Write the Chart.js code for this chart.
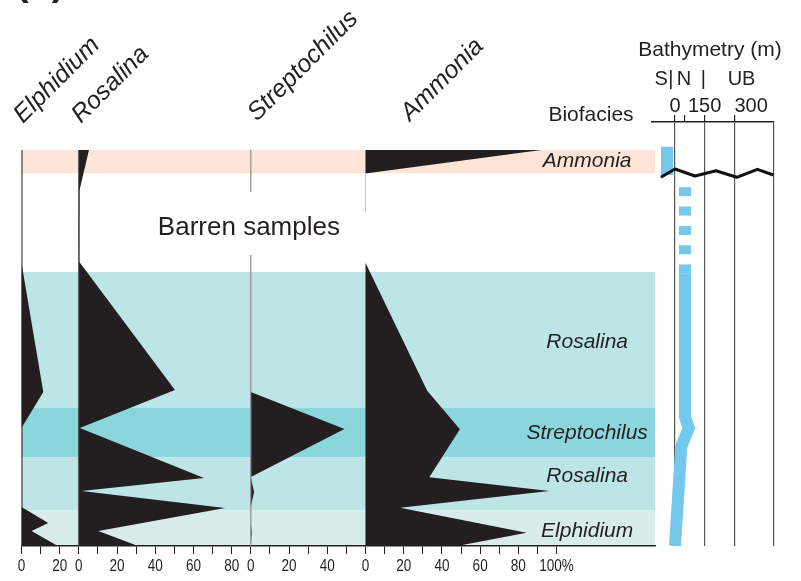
<!DOCTYPE html>
<html>
<head>
<meta charset="utf-8">
<title>Biofacies and bathymetry</title>
<script src="https://cdn.jsdelivr.net/npm/chart.js@4.4.1/dist/chart.umd.min.js"></script>
<style>
  html, body { margin: 0; padding: 0; background: #fff; }
  #wrap { position: relative; width: 801px; height: 581px; overflow: hidden; }
  #wrap canvas { position: absolute; left: 0; top: 0; }
</style>
</head>
<body>
<div id="wrap">
  <canvas id="main" width="801" height="581"></canvas>
  <canvas id="bathy" width="801" height="581"></canvas>
</div>
<script>
// columns, in drawing order, and the % range given to each one
const taxa = ['Elphidium', 'Rosalina', 'Streptochilus', 'Ammonia'];
const taxonMax = [30, 90, 60, 100];

// depth of each sample (top of section = 0) and relative abundance in %
const elphDepth = [0, 113, 242, 278, 357, 373, 381, 396];
const elphPct   = [0, 0, 11.4, 0, 0, 14, 5.3, 19];
const rosaDepth = [0, 40, 112, 240, 278, 328, 341, 358, 381, 396];
const rosaPct   = [5.3, 0.4, 0.3, 50.3, 0.5, 65.5, 1.5, 76.5, 10.2, 31];
const strepDepth = [0, 242, 279, 327, 342, 357, 373, 383, 393, 396];
const strepPct   = [0, 0, 49, 0, 1.7, 0, 0, 0.5, 0, 0];
const ammoDepth = [0, 23.5, 112.7, 240.7, 279.3, 327.3, 341, 357.7, 382.7, 396];
const ammoPct   = [92, 0, 0, 32.3, 49.4, 33.4, 96.2, 18.1, 84.3, 48];

// biofacies intervals
const bandTop    = [0, 23.5, 122, 257.5, 307.5, 360.5];
const bandBottom = [23.5, 122, 257.5, 307.5, 360.5, 396];
const bandFacies = ['Ammonia', 'Barren', 'Rosalina', 'Streptochilus', 'Rosalina', 'Elphidium'];
const faciesLabels = ['Ammonia', 'Rosalina', 'Streptochilus', 'Rosalina', 'Elphidium'];
const faciesLabelDepth = [17, 198, 289, 332, 387];

// stretches where a column's zero line is drawn: [column, from, to]
const zeroLines = [[0, 0, 396], [1, 0, 396], [2, 0, 42], [2, 105, 396], [3, 23.5, 62]];

// bathymetry (m) against the same depth
const bathyTicks = [0, 50, 150, 300, 500];
const bathyTickLabels = ['0', '', '150', '300', ''];
const zoneNames = ['S', '|', 'N', '|', 'UB'];
const zoneAt = [-70, -21, 45, 143, 336];
const shallowM = [-40, -40];
const shallowDepth = [-3.3, 25];
const gapM = [50.5, 50.5];
const gapDepth = [37.3, 123.3];
const pathM = [50.5, 50.5, 69.7, 31.8, 0];
const pathDepth = [123.3, 266.7, 278.3, 296.7, 396];
const waveM = [-71, 0, 101, 207, 312, 416, 497];
const waveDepth = [27.3, 19, 26, 20.7, 27.3, 19.3, 25];

const INK = '#231f20';
const BLUE = '#74c8ec';
const faciesColor = {
    Ammonia: '#fce5d6',
    Barren: '#ffffff',
    Rosalina: '#bde5e7',
    Streptochilus: '#8bd5dd',
    Elphidium: '#d8ecea'
};
const zeroColor = [INK, '#3a3a3a', '#8a8a8a', '#d0d0d0'];
const FONT = '"Liberation Sans", Arial, Helvetica, sans-serif';

Chart.defaults.font.family = FONT;
Chart.defaults.animation = false;

// offset of each column on the shared x scale
const offsets = [];
let total = 0;
taxonMax.forEach(m => { offsets.push(total); total += m; });

// tick values and their labels (every 10 %, labelled every 20 %)
const tickValues = [];
const tickText = {};
taxonMax.forEach((m, i) => {
    const last = i === taxonMax.length - 1;
    for (let v = 0; v < m || (last && v === m); v += 10) {
        const value = offsets[i] + v;
        tickValues.push(value);
        tickText[value] = v % 20 === 0 ? (last && v === m ? v + '%' : String(v)) : '';
    }
});

function xy(xs, ys) {
    return xs.map((x, k) => ({x: x, y: ys[k]}));
}

function profile(i, depth, pct) {
    const pts = [{x: offsets[i], y: depth[0]}];
    depth.forEach((d, k) => pts.push({x: offsets[i] + pct[k], y: d}));
    pts.push({x: offsets[i], y: depth[depth.length - 1]});
    return pts;
}

const profiles = [
    profile(0, elphDepth, elphPct),
    profile(1, rosaDepth, rosaPct),
    profile(2, strepDepth, strepPct),
    profile(3, ammoDepth, ammoPct)
];

const mainDatasets = [];
zeroLines.forEach(seg => {
    mainDatasets.push({
        data: [{x: offsets[seg[0]], y: seg[1]}, {x: offsets[seg[0]], y: seg[2]}],
        showLine: true,
        borderColor: zeroColor[seg[0]],
        borderWidth: seg[0] === 0 ? 2 : 1.2,
        pointRadius: 0
    });
});
profiles.forEach(pts => {
    mainDatasets.push({
        data: pts,
        showLine: true,
        fill: 'shape',
        backgroundColor: INK,
        borderColor: 'rgba(0,0,0,0)',
        borderWidth: 0,
        pointRadius: 0
    });
});

const bandsPlugin = {
    id: 'bands',
    beforeDraw(chart) {
        const ctx = chart.ctx;
        const area = chart.chartArea;
        const y = chart.scales.y;
        ctx.save();
        bandTop.forEach((top, i) => {
            const y0 = y.getPixelForValue(top);
            const y1 = y.getPixelForValue(bandBottom[i]);
            ctx.fillStyle = faciesColor[bandFacies[i]];
            ctx.fillRect(area.left, y0, area.right - area.left, y1 - y0);
        });
        ctx.restore();
    }
};

const barrenX = 119;
const barrenDepth = 85;

const textPlugin = {
    id: 'texts',
    afterDraw(chart) {
        const ctx = chart.ctx;
        const x = chart.scales.x;
        const y = chart.scales.y;
        ctx.save();
        ctx.fillStyle = INK;

        // cut-off panel letter at the top
        ctx.font = 'bold 38px ' + FONT;
        ctx.textAlign = 'left';
        ctx.textBaseline = 'alphabetic';
        ctx.fillText('(b)', 16, -5);

        // column headers
        const heads = [[23, 124], [81, 124], [257, 122], [410, 122]];
        ctx.font = 'italic 25px ' + FONT;
        taxa.forEach((name, i) => {
            ctx.save();
            ctx.translate(heads[i][0], heads[i][1]);
            ctx.rotate(-Math.PI / 4);
            ctx.fillText(name, 0, 0);
            ctx.restore();
        });

        // % tick labels, in a narrow face
        ctx.font = '16.5px ' + FONT;
        ctx.textAlign = 'center';
        tickValues.forEach(v => {
            const t = tickText[v];
            if (!t) return;
            ctx.save();
            ctx.translate(x.getPixelForValue(v), 571);
            ctx.scale(0.82, 1);
            ctx.fillText(t, 0, 0);
            ctx.restore();
        });

        // barren interval
        ctx.font = '26px ' + FONT;
        ctx.fillText('Barren samples', x.getPixelForValue(barrenX), y.getPixelForValue(barrenDepth));

        // biofacies names
        ctx.font = '21px ' + FONT;
        ctx.fillText('Biofacies', 591, 121);
        ctx.font = 'italic 21px ' + FONT;
        faciesLabels.forEach((name, i) => {
            ctx.fillText(name, x.getPixelForValue(296), y.getPixelForValue(faciesLabelDepth[i]));
        });
        ctx.restore();
    }
};

new Chart(document.getElementById('main'), {
    type: 'scatter',
    data: { datasets: mainDatasets },
    options: {
        responsive: false,
        devicePixelRatio: 1,
        layout: { padding: { left: 21.5, right: 146, top: 150, bottom: 0 } },
        plugins: { legend: { display: false }, tooltip: { enabled: false } },
        scales: {
            x: {
                type: 'linear',
                position: 'bottom',
                min: 0,
                max: 331.5,
                afterBuildTicks: scale => { scale.ticks = tickValues.map(v => ({value: v})); },
                afterFit: scale => { scale.height = 35; },
                grid: { drawOnChartArea: false, drawTicks: true, tickLength: 8, color: INK, tickColor: INK, lineWidth: 1 },
                border: { display: true, color: INK, width: 1.5 },
                ticks: { display: false }
            },
            y: {
                type: 'linear',
                display: false,
                reverse: true,
                min: 0,
                max: 396
            }
        }
    },
    plugins: [bandsPlugin, textPlugin]
});

// bathymetry panel
const bathyText = {
    id: 'bathyText',
    afterDraw(chart) {
        const ctx = chart.ctx;
        const x = chart.scales.x;
        ctx.save();
        ctx.fillStyle = INK;
        ctx.textBaseline = 'alphabetic';
        ctx.font = '21px ' + FONT;
        ctx.textAlign = 'center';
        ctx.fillText('Bathymetry (m)', 710, 56);
        ctx.font = '20px ' + FONT;
        zoneNames.forEach((z, i) => ctx.fillText(z, x.getPixelForValue(zoneAt[i]), 85));
        bathyTicks.forEach((v, i) => {
            if (!bathyTickLabels[i]) return;
            // the deepest label sits to the right of its tick
            ctx.textAlign = i === 3 ? 'left' : 'center';
            ctx.fillText(bathyTickLabels[i], x.getPixelForValue(v), 111.5);
        });
        ctx.restore();
    }
};

new Chart(document.getElementById('bathy'), {
    type: 'scatter',
    data: {
        datasets: [
            { data: xy(waveM, waveDepth), showLine: true, borderColor: '#111', borderWidth: 3, borderJoinStyle: 'round', pointRadius: 0 },
            { data: xy(shallowM, shallowDepth), showLine: true, borderColor: BLUE, borderWidth: 12, borderCapStyle: 'butt', pointRadius: 0 },
            { data: xy(gapM, gapDepth), showLine: true, borderColor: BLUE, borderWidth: 12, borderCapStyle: 'butt', borderDash: [9, 10.3], pointRadius: 0 },
            { data: xy(pathM, pathDepth), showLine: true, borderColor: BLUE, borderWidth: 12, borderCapStyle: 'butt', borderJoinStyle: 'miter', pointRadius: 0 }
        ]
    },
    options: {
        responsive: false,
        devicePixelRatio: 1,
        layout: { padding: { left: 652, right: 27, top: 122, bottom: 35 } },
        plugins: { legend: { display: false }, tooltip: { enabled: false } },
        scales: {
            x: {
                type: 'linear',
                position: 'top',
                min: -116,
                max: 500,
                afterBuildTicks: scale => { scale.ticks = bathyTicks.map(v => ({value: v})); },
                afterFit: scale => { scale.height = 0; },
                grid: {
                    drawOnChartArea: true,
                    drawTicks: true,
                    tickLength: 7,
                    lineWidth: 1.2,
                    color: c => (c.tick && c.tick.value === 50) ? 'rgba(0,0,0,0)' : '#555',
                    tickColor: c => (c.tick && c.tick.value === 500) ? 'rgba(0,0,0,0)' : INK
                },
                border: { display: true, color: INK, width: 1.5 },
                ticks: { display: false }
            },
            y: {
                type: 'linear',
                display: false,
                reverse: true,
                min: -28,
                max: 396
            }
        }
    },
    plugins: [bathyText]
});
</script>
</body>
</html>
